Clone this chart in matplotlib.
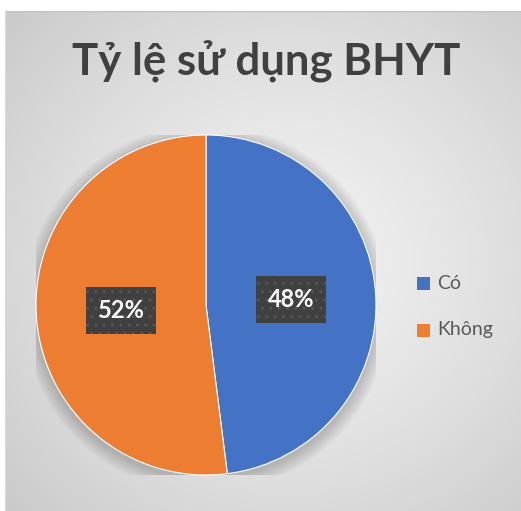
import numpy as np
import matplotlib.pyplot as plt
from matplotlib.patches import Circle, Rectangle

labels = ['Có', 'Không']
values = [48, 52]
colors = ['#4472C4', '#ED7D31']
title = 'Tỷ lệ sử dụng BHYT'

W, H = 521, 511
plt.rcParams['font.family'] = ['Lato', 'DejaVu Sans']

fig = plt.figure(figsize=(W / 100, H / 100), dpi=100)
fig.patch.set_facecolor('white')

# background panel with radial gradient
bg = fig.add_axes([5 / W, 0, 1 - 5 / W, (H - 11) / H])
yy, xx = np.mgrid[0:1:300j, 0:1:300j]
d = np.sqrt((xx - 0.55) ** 2 + ((yy - 0.5) * 1.0) ** 2)
g = 0.95 - 0.16 * np.clip(d / 0.75, 0, 1) ** 1.3
bg.imshow(np.dstack([g, g, g]), extent=[0, 1, 0, 1], aspect='auto', zorder=0)
bg.set_xlim(0, 1)
bg.set_ylim(0, 1)
bg.axis('off')
bg.plot([0, 1], [1, 1], color='#c0c0c0', lw=1, transform=bg.transAxes)
bg.plot([0, 0], [0, 1], color='#d8d8d8', lw=1, transform=bg.transAxes)

fig.text(266 / W, 1 - 62 / H, title, ha='center', va='center',
         fontsize=31.5, fontweight='bold', color='#404040')

cx, cy, r = 206, 305, 170
ax = fig.add_axes([(cx - r) / W, (H - cy - r) / H, 2 * r / W, 2 * r / H])

# soft shadow
for i in range(8):
    ax.add_patch(Circle((0.0, -0.02), 1.0 + 0.01 * (8 - i), color='black',
                        alpha=0.025, lw=0, zorder=0))

wedges, texts, autotexts = ax.pie(values, colors=colors, startangle=90,
                                  counterclock=False, radius=1,
                                  autopct='%1.0f%%', pctdistance=0.5,
                                  wedgeprops=dict(linewidth=0.8, edgecolor='white'))
for t in autotexts:
    t.set_color('white')
    t.set_fontsize(17)
    t.set_fontweight('bold')
    t.set_bbox(dict(boxstyle='square,pad=0.5', facecolor='#404040',
                    edgecolor='#555555', hatch='..', linewidth=0))
    t.set_zorder(5)
ax.set_xlim(-1, 1)
ax.set_ylim(-1, 1)
ax.set_aspect('equal')
ax.axis('off')

# legend
lx = 417 / W
for i, (lab, col) in enumerate(zip(labels, colors)):
    yc = 1 - (283 + 47 * i) / H
    fig.patches.append(Rectangle((lx, yc - 7 / H), 13 / W, 13 / H,
                                 transform=fig.transFigure, facecolor=col,
                                 edgecolor='none'))
    fig.text(437 / W, yc, lab, ha='left', va='center', fontsize=14,
             color='#595959')

fig.savefig('out.png', dpi=100)
